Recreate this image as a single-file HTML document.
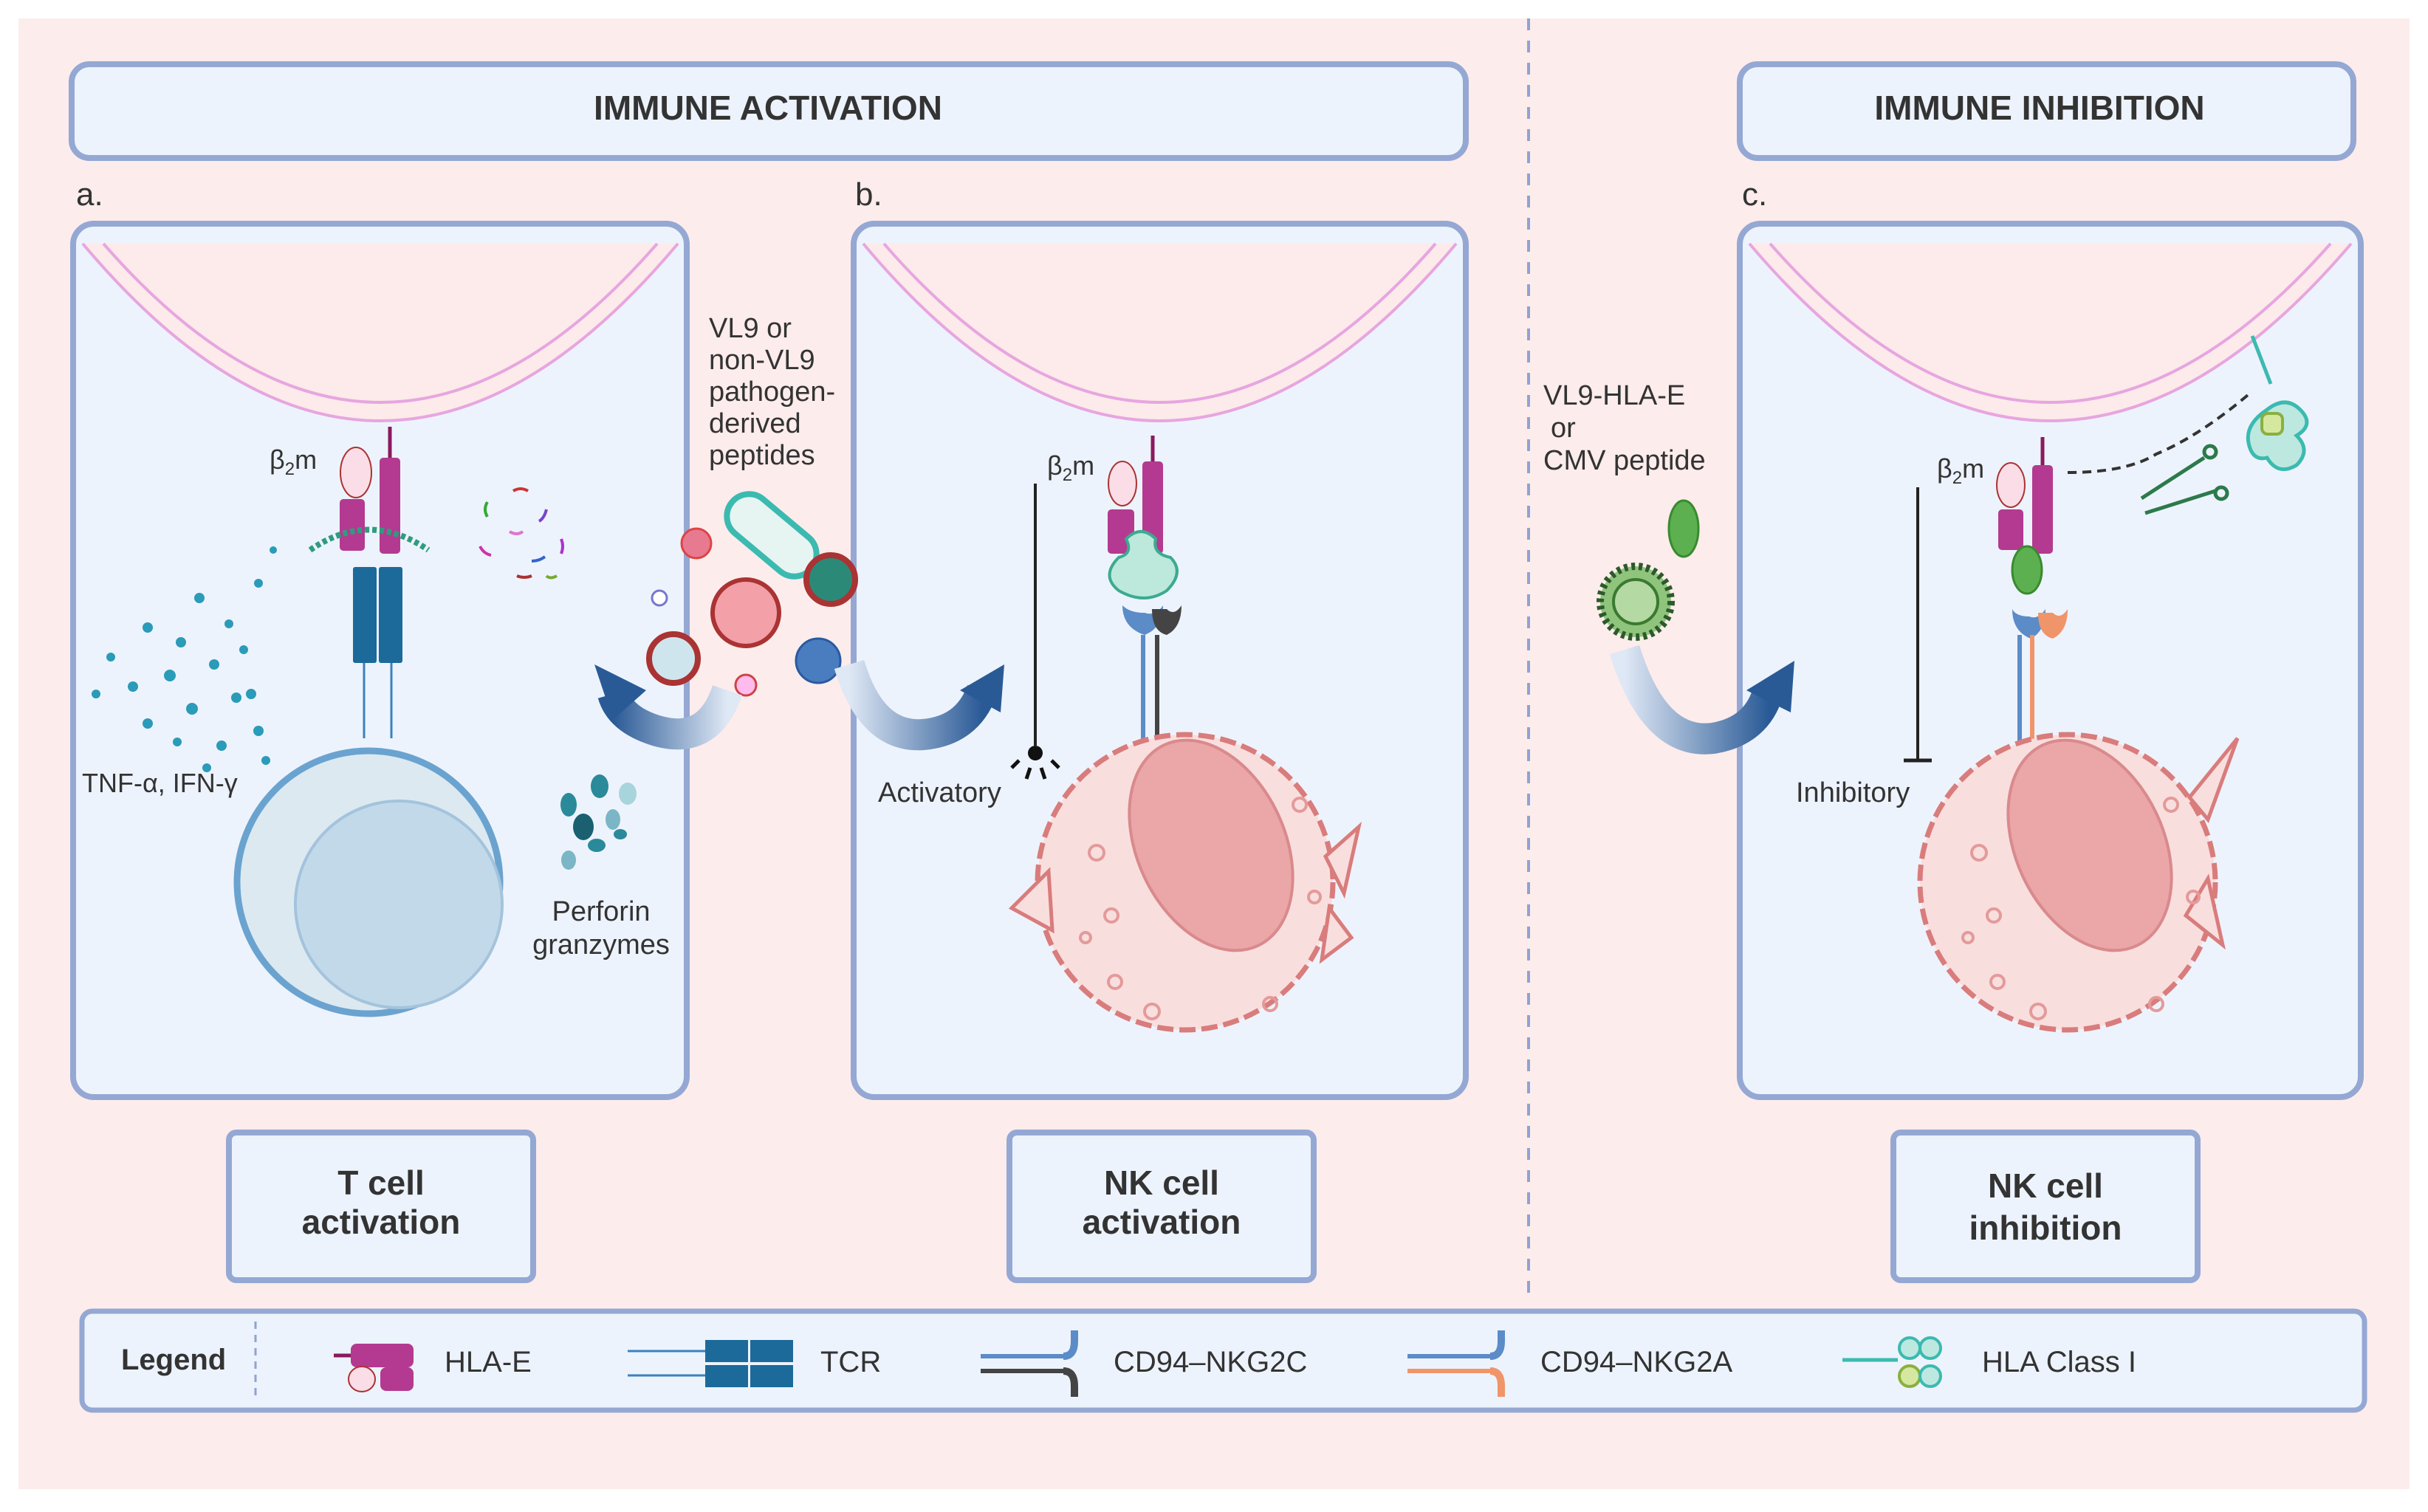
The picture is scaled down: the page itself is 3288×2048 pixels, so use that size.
<!DOCTYPE html>
<html><head><meta charset="utf-8">
<style>
html,body{margin:0;padding:0;background:#fff;}
svg{display:block;}
text{font-family:"Liberation Sans",Arial,sans-serif;fill:#333;}
</style></head>
<body>
<svg width="3288" height="2048" viewBox="0 0 3288 2048" xmlns="http://www.w3.org/2000/svg">
<defs>
<linearGradient id="ga" x1="1" y1="0" x2="0" y2="0">
<stop offset="0" stop-color="#dfe8f5"/><stop offset="1" stop-color="#2a5a96"/></linearGradient>
<linearGradient id="gb" x1="0" y1="0" x2="1" y2="0">
<stop offset="0" stop-color="#dfe8f5"/><stop offset="1" stop-color="#2a5a96"/></linearGradient>
</defs>
<rect x="25" y="25" width="3238" height="1992" fill="#fdecec"/>
<line x1="2070" y1="25" x2="2070" y2="1762" stroke="#8fa3d0" stroke-width="4" stroke-dasharray="16,14"/>

<!-- headers -->
<rect x="97" y="87" width="1888" height="127" rx="24" fill="#edf3fc" stroke="#94a8d3" stroke-width="8"/>
<text x="1040" y="162" font-size="46" font-weight="bold" text-anchor="middle">IMMUNE ACTIVATION</text>
<rect x="2356" y="87" width="831" height="127" rx="24" fill="#edf3fc" stroke="#94a8d3" stroke-width="8"/>
<text x="2762" y="162" font-size="46" font-weight="bold" text-anchor="middle">IMMUNE INHIBITION</text>

<text x="103" y="278" font-size="44">a.</text>
<text x="1158" y="278" font-size="44">b.</text>
<text x="2359" y="278" font-size="44">c.</text>

<!-- panels -->
<g fill="#edf3fc" stroke="#94a8d3" stroke-width="8">
<rect x="99" y="303" width="831" height="1183" rx="28"/>
<rect x="1156" y="303" width="829" height="1183" rx="28"/>
<rect x="2356" y="303" width="841" height="1183" rx="28"/>
</g>
<!-- membranes -->
<g stroke="#e6a6e0" stroke-width="4" fill="none">
<path d="M112,330 Q515,810 918,330 L918,330 Z" fill="#fdeaea" stroke="none"/>
<path d="M112,330 Q515,810 918,330"/><path d="M140,330 Q515,760 890,330"/>
<path d="M1169,330 Q1570,810 1972,330 Z" fill="#fdeaea" stroke="none"/>
<path d="M1169,330 Q1570,810 1972,330"/><path d="M1197,330 Q1570,760 1944,330"/>
<path d="M2369,330 Q2776,810 3184,330 Z" fill="#fdeaea" stroke="none"/>
<path d="M2369,330 Q2776,810 3184,330"/><path d="M2397,330 Q2776,760 3156,330"/>
</g>

<!-- Panel a -->
<text x="365" y="635" font-size="36">β<tspan font-size="24" dy="8">2</tspan><tspan dy="-8">m</tspan></text>
<ellipse cx="482" cy="640" rx="21" ry="34" fill="#fadde6" stroke="#a33" stroke-width="2"/>
<rect x="514" y="620" width="28" height="130" rx="5" fill="#b33a90"/>
<line x1="528" y1="578" x2="528" y2="620" stroke="#8a1a5e" stroke-width="5"/>
<rect x="460" y="676" width="34" height="70" rx="5" fill="#b33a90"/>
<path d="M420,745 Q500,690 580,745" stroke="#2e9c7e" stroke-width="8" fill="none" stroke-dasharray="6,4"/>
<rect x="478" y="768" width="32" height="130" rx="3" fill="#1c6a9a"/>
<rect x="513" y="768" width="32" height="130" rx="3" fill="#1c6a9a"/>
<line x1="493" y1="898" x2="493" y2="1000" stroke="#3a82c0" stroke-width="3"/>
<line x1="530" y1="898" x2="530" y2="1000" stroke="#3a82c0" stroke-width="3"/>
<g fill="#2a9bb8">
<circle cx="150" cy="890" r="6"/><circle cx="200" cy="850" r="7"/><circle cx="245" cy="870" r="7"/><circle cx="270" cy="810" r="7"/><circle cx="310" cy="845" r="6"/><circle cx="180" cy="930" r="7"/><circle cx="230" cy="915" r="8"/><circle cx="290" cy="900" r="7"/><circle cx="330" cy="880" r="6"/><circle cx="200" cy="980" r="7"/><circle cx="260" cy="960" r="8"/><circle cx="320" cy="945" r="7"/><circle cx="350" cy="990" r="7"/><circle cx="300" cy="1010" r="7"/><circle cx="240" cy="1005" r="6"/><circle cx="360" cy="1030" r="6"/><circle cx="350" cy="790" r="6"/><circle cx="130" cy="940" r="6"/><circle cx="370" cy="745" r="5"/><circle cx="340" cy="940" r="7"/><circle cx="280" cy="1040" r="6"/></g>
<g stroke-width="4" fill="none">
<path d="M660,680 q-6,10 0,20" stroke="#3a3"/><path d="M695,665 q10,-6 20,0" stroke="#c33"/><path d="M740,690 q-3,12 -10,16" stroke="#74c"/><path d="M690,720 q10,6 18,0" stroke="#d7c"/><path d="M650,740 q5,10 15,12" stroke="#c3a"/><path d="M720,760 q10,0 18,-6" stroke="#36c"/><path d="M760,730 q4,10 0,20" stroke="#a3c"/><path d="M700,780 q10,4 20,0" stroke="#a33"/><path d="M740,780 q5,5 14,0" stroke="#7a3"/></g>
<circle cx="499" cy="1195" r="178" fill="#dce9f1" stroke="#6aa3cf" stroke-width="9"/>
<circle cx="540" cy="1225" r="140" fill="#c2d9ea" stroke="#a4c3dc" stroke-width="4"/>
<text x="111" y="1073" font-size="36">TNF-α, IFN-γ</text>
<g fill="#2a8a9a"><ellipse cx="770" cy="1090" rx="11" ry="16"/><ellipse cx="812" cy="1065" rx="12" ry="16"/><ellipse cx="790" cy="1120" rx="14" ry="18" fill="#1a6070"/><ellipse cx="850" cy="1075" rx="12" ry="15" fill="#a8d4dc"/><ellipse cx="830" cy="1110" rx="10" ry="14" fill="#7ab6c6"/><ellipse cx="770" cy="1165" rx="10" ry="13" fill="#7ab6c6"/><ellipse cx="808" cy="1145" rx="12" ry="9"/><ellipse cx="840" cy="1130" rx="9" ry="7"/></g>
<text x="814" y="1247" font-size="38" text-anchor="middle">Perforin</text>
<text x="814" y="1292" font-size="38" text-anchor="middle">granzymes</text>

<!-- pathogens -->
<text x="960" y="457" font-size="38">VL9 or</text>
<text x="960" y="500" font-size="38">non-VL9</text>
<text x="960" y="543" font-size="38">pathogen-</text>
<text x="960" y="586" font-size="38">derived</text>
<text x="960" y="629" font-size="38">peptides</text>
<rect x="975" y="695" width="140" height="60" rx="30" transform="rotate(40 1045 725)" fill="#e6f4f2" stroke="#3bbab0" stroke-width="8"/>
<circle cx="943" cy="736" r="20" fill="#e77a90" stroke="#d44" stroke-width="3"/>
<circle cx="1010" cy="830" r="45" fill="#f3a0a8" stroke="#a33" stroke-width="6"/>
<circle cx="1125" cy="785" r="33" fill="#2b8a77" stroke="#a33" stroke-width="8"/>
<circle cx="912" cy="892" r="33" fill="#cfe5ee" stroke="#a33" stroke-width="8"/>
<circle cx="1108" cy="895" r="30" fill="#4a7cc0" stroke="#2a5aa0" stroke-width="3"/>
<circle cx="1010" cy="928" r="14" fill="#fbe" stroke="#c44" stroke-width="3"/>
<circle cx="893" cy="810" r="10" fill="#fff" stroke="#77c" stroke-width="3"/>
<!-- arrows -->
<path d="M985,935 Q960,1010 890,990 Q840,975 830,940" stroke="url(#ga)" stroke-width="42" fill="none"/>
<polygon points="805,900 875,935 830,975" fill="#2a5a96"/>
<path d="M1150,900 Q1180,1000 1250,995 Q1310,990 1330,935" stroke="url(#gb)" stroke-width="42" fill="none"/>
<polygon points="1360,900 1355,965 1300,935" fill="#2a5a96"/>
<path d="M2200,880 Q2240,1010 2320,1000 Q2380,990 2395,935" stroke="url(#gb)" stroke-width="42" fill="none"/>
<polygon points="2430,895 2425,965 2365,935" fill="#2a5a96"/>

<!-- Panel b -->
<text x="1418" y="643" font-size="36">β<tspan font-size="24" dy="8">2</tspan><tspan dy="-8">m</tspan></text>
<ellipse cx="1520" cy="655" rx="19" ry="30" fill="#fadde6" stroke="#a33" stroke-width="2"/>
<rect x="1547" y="625" width="28" height="125" rx="5" fill="#b33a90"/>
<line x1="1561" y1="590" x2="1561" y2="625" stroke="#8a1a5e" stroke-width="5"/>
<rect x="1500" y="690" width="36" height="60" rx="5" fill="#b33a90"/>
<path d="M1525,730 q20,-20 40,0 q-5,20 20,25 q20,20 -5,45 q-30,20 -65,0 q-25,-20 0,-45 q20,-5 10,-25z" fill="#bde8dc" stroke="#3bab90" stroke-width="4"/>
<path d="M1520,820 q0,30 30,40 q25,-10 25,-40 q-10,15 -25,10 q-20,0 -30,-10z" fill="#5b8cc8"/>
<path d="M1560,825 q0,30 20,35 q20,-10 20,-40 q-10,15 -20,5z" fill="#444"/>
<line x1="1548" y1="860" x2="1548" y2="1015" stroke="#5b8cc8" stroke-width="6"/>
<line x1="1567" y1="860" x2="1567" y2="1015" stroke="#444" stroke-width="6"/>
<line x1="1402" y1="655" x2="1402" y2="1010" stroke="#222" stroke-width="4"/>
<circle cx="1402" cy="1020" r="10" fill="#111"/>
<g stroke="#111" stroke-width="5"><line x1="1380" y1="1030" x2="1370" y2="1040"/><line x1="1424" y1="1030" x2="1434" y2="1040"/><line x1="1395" y1="1040" x2="1390" y2="1055"/><line x1="1410" y1="1040" x2="1415" y2="1055"/></g>
<text x="1189" y="1086" font-size="38">Activatory</text>
<g>
<circle cx="1605" cy="1195" r="200" fill="#f9dede" stroke="#d97c7c" stroke-width="7" stroke-dasharray="22,8"/>
<polygon points="1370,1230 1420,1180 1425,1260" fill="#f9dede" stroke="#d97c7c" stroke-width="5"/>
<polygon points="1820,1210 1840,1120 1795,1160" fill="#f9dede" stroke="#d97c7c" stroke-width="5"/>
<polygon points="1830,1270 1800,1230 1790,1300" fill="#f9dede" stroke="#d97c7c" stroke-width="5"/>
<ellipse cx="1640" cy="1145" rx="100" ry="150" transform="rotate(-25 1640 1145)" fill="#eba6a8" stroke="#d98a8c" stroke-width="4"/>
<g fill="none" stroke="#e49a9a" stroke-width="4"><circle cx="1485" cy="1155" r="10"/><circle cx="1505" cy="1240" r="9"/><circle cx="1470" cy="1270" r="7"/><circle cx="1510" cy="1330" r="9"/><circle cx="1560" cy="1370" r="10"/><circle cx="1720" cy="1360" r="9"/><circle cx="1780" cy="1215" r="8"/><circle cx="1760" cy="1090" r="9"/></g>
</g>

<!-- Panel c -->
<text x="2090" y="548" font-size="38">VL9-HLA-E</text>
<text x="2100" y="592" font-size="38">or</text>
<text x="2090" y="636" font-size="38">CMV peptide</text>
<ellipse cx="2280" cy="716" rx="20" ry="38" fill="#5cb050" stroke="#3a8a30" stroke-width="3"/>
<circle cx="2215" cy="815" r="48" fill="#8fc47c" stroke="#2c5a2a" stroke-width="10" stroke-dasharray="5,5"/>
<circle cx="2215" cy="815" r="30" fill="#b5d9a2" stroke="#3a7a30" stroke-width="4"/>
<text x="2623" y="647" font-size="36">β<tspan font-size="24" dy="8">2</tspan><tspan dy="-8">m</tspan></text>
<ellipse cx="2723" cy="657" rx="19" ry="30" fill="#fadde6" stroke="#a33" stroke-width="2"/>
<rect x="2752" y="630" width="28" height="120" rx="5" fill="#b33a90"/>
<line x1="2766" y1="592" x2="2766" y2="630" stroke="#8a1a5e" stroke-width="5"/>
<rect x="2706" y="690" width="34" height="55" rx="5" fill="#b33a90"/>
<ellipse cx="2745" cy="772" rx="20" ry="32" fill="#5cb050" stroke="#3a8a30" stroke-width="3"/>
<path d="M2725,825 q0,30 25,40 q20,-10 20,-40 q-10,15 -22,10 q-18,0 -23,-10z" fill="#5b8cc8"/>
<path d="M2760,830 q0,30 20,35 q20,-10 20,-40 q-10,15 -20,5z" fill="#f0956a"/>
<line x1="2735" y1="860" x2="2735" y2="1015" stroke="#5b8cc8" stroke-width="6"/>
<line x1="2752" y1="860" x2="2752" y2="1015" stroke="#f0956a" stroke-width="6"/>
<path d="M2800,640 Q2880,640 2920,615 Q2980,590 3050,530" stroke="#333" stroke-width="4" fill="none" stroke-dasharray="12,8"/>
<line x1="3050" y1="455" x2="3075" y2="520" stroke="#3bbab0" stroke-width="5"/>
<path d="M3070,555 q25,-20 45,0 q20,20 -5,35 q20,20 0,40 q-25,15 -40,-10 q-20,5 -25,-20 q-5,-25 25,-45z" fill="#bde8e0" stroke="#3bbab0" stroke-width="5"/>
<rect x="3063" y="560" width="28" height="28" rx="8" fill="#d6e8a0" stroke="#8ab040" stroke-width="4"/>
<g stroke="#2c7a4a" stroke-width="5" fill="none"><line x1="2900" y1="675" x2="2985" y2="620"/><line x1="2905" y1="695" x2="3000" y2="665"/><circle cx="2993" cy="612" r="8"/><circle cx="3008" cy="668" r="8"/></g>
<line x1="2597" y1="660" x2="2597" y2="1030" stroke="#222" stroke-width="4"/>
<line x1="2578" y1="1030" x2="2616" y2="1030" stroke="#222" stroke-width="5"/>
<text x="2432" y="1086" font-size="38">Inhibitory</text>
<g>
<circle cx="2800" cy="1195" r="200" fill="#f9dede" stroke="#d97c7c" stroke-width="7" stroke-dasharray="22,8"/>
<polygon points="3010,1280 2990,1190 2960,1240" fill="#f9dede" stroke="#d97c7c" stroke-width="5"/>
<polygon points="3030,1000 2965,1080 2990,1110" fill="#f9dede" stroke="#d97c7c" stroke-width="5"/>
<ellipse cx="2830" cy="1145" rx="100" ry="150" transform="rotate(-25 2830 1145)" fill="#eba6a8" stroke="#d98a8c" stroke-width="4"/>
<g fill="none" stroke="#e49a9a" stroke-width="4"><circle cx="2680" cy="1155" r="10"/><circle cx="2700" cy="1240" r="9"/><circle cx="2665" cy="1270" r="7"/><circle cx="2705" cy="1330" r="9"/><circle cx="2760" cy="1370" r="10"/><circle cx="2920" cy="1360" r="9"/><circle cx="2970" cy="1215" r="8"/><circle cx="2940" cy="1090" r="9"/></g>
</g>

<!-- bottom boxes -->
<g fill="#edf3fc" stroke="#94a8d3" stroke-width="8">
<rect x="310" y="1534" width="412" height="200" rx="10"/>
<rect x="1367" y="1534" width="412" height="200" rx="10"/>
<rect x="2564" y="1534" width="412" height="200" rx="10"/>
</g>
<g font-size="46" font-weight="bold" text-anchor="middle">
<text x="516" y="1618">T cell</text><text x="516" y="1671">activation</text>
<text x="1573" y="1618">NK cell</text><text x="1573" y="1671">activation</text>
<text x="2770" y="1622">NK cell</text><text x="2770" y="1679">inhibition</text>
</g>

<!-- legend -->
<rect x="111" y="1776" width="3091" height="134" rx="14" fill="#edf3fc" stroke="#94a8d3" stroke-width="7"/>
<text x="164" y="1855" font-size="40" font-weight="bold" fill="#111">Legend</text>
<line x1="346" y1="1790" x2="346" y2="1896" stroke="#8fa3d0" stroke-width="3" stroke-dasharray="10,8"/>
<line x1="452" y1="1836" x2="480" y2="1836" stroke="#8a1a5e" stroke-width="5"/>
<rect x="475" y="1820" width="85" height="32" rx="8" fill="#b33a90"/>
<ellipse cx="490" cy="1868" rx="18" ry="17" fill="#fadde6" stroke="#a33" stroke-width="2"/>
<rect x="515" y="1852" width="45" height="32" rx="8" fill="#b33a90"/>
<text x="602" y="1858" font-size="40">HLA-E</text>
<line x1="850" y1="1830" x2="955" y2="1830" stroke="#3a82c0" stroke-width="3"/>
<line x1="850" y1="1863" x2="955" y2="1863" stroke="#3a82c0" stroke-width="3"/>
<rect x="955" y="1815" width="58" height="30" fill="#1c6a9a"/><rect x="1016" y="1815" width="58" height="30" fill="#1c6a9a"/>
<rect x="955" y="1849" width="58" height="30" fill="#1c6a9a"/><rect x="1016" y="1849" width="58" height="30" fill="#1c6a9a"/>
<text x="1111" y="1858" font-size="40">TCR</text>
<line x1="1328" y1="1837" x2="1440" y2="1837" stroke="#5b8cc8" stroke-width="6"/>
<path d="M1440,1837 q15,0 15,-20 l0,-15" stroke="#5b8cc8" stroke-width="10" fill="none"/>
<line x1="1328" y1="1857" x2="1440" y2="1857" stroke="#444" stroke-width="6"/>
<path d="M1440,1857 q15,0 15,20 l0,15" stroke="#444" stroke-width="10" fill="none"/>
<text x="1508" y="1858" font-size="40">CD94–NKG2C</text>
<line x1="1906" y1="1837" x2="2018" y2="1837" stroke="#5b8cc8" stroke-width="6"/>
<path d="M2018,1837 q15,0 15,-20 l0,-15" stroke="#5b8cc8" stroke-width="10" fill="none"/>
<line x1="1906" y1="1857" x2="2018" y2="1857" stroke="#f0956a" stroke-width="6"/>
<path d="M2018,1857 q15,0 15,20 l0,15" stroke="#f0956a" stroke-width="10" fill="none"/>
<text x="2086" y="1858" font-size="40">CD94–NKG2A</text>
<line x1="2495" y1="1842" x2="2570" y2="1842" stroke="#3bbab0" stroke-width="5"/>
<circle cx="2586" cy="1826" r="14" fill="#bde8e0" stroke="#3bbab0" stroke-width="4"/>
<circle cx="2614" cy="1826" r="14" fill="#bde8e0" stroke="#3bbab0" stroke-width="4"/>
<circle cx="2586" cy="1864" r="14" fill="#d6e8a0" stroke="#8ab040" stroke-width="4"/>
<circle cx="2614" cy="1864" r="14" fill="#bde8e0" stroke="#3bbab0" stroke-width="4"/>
<text x="2684" y="1858" font-size="40">HLA Class I</text>
</svg>
</body></html>
